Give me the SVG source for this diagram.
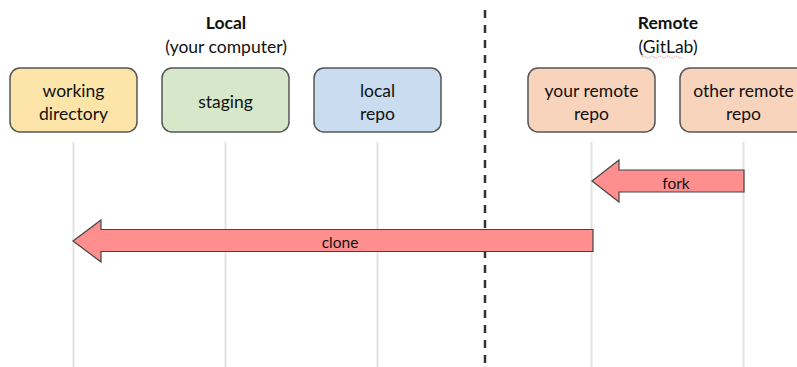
<svg xmlns="http://www.w3.org/2000/svg" width="797" height="367" viewBox="0 0 797 367">
  <style>
    text { font-family: Lato, "Open Sans", "Liberation Sans", sans-serif; font-size: 17.5px; fill: #111; text-anchor: middle; }
    .title { font-weight: bold; }
    .box { stroke: #555; stroke-width: 1.5; }
    .life { stroke: #e2e2e2; stroke-width: 2; }
    .divider { stroke: #333; stroke-width: 2.5; stroke-dasharray: 8 7; }
    .arrow { fill: #ff8f8f; stroke: #444; stroke-width: 1.2; stroke-linejoin: miter; }
    .label { font-size: 15.5px; }
  </style>
  <rect width="797" height="367" fill="#fff"/>

  <!-- headings -->
  <g id="heading-local">
    <text class="title" x="226" y="29">Local</text>
    <text x="226" y="53">(your computer)</text>
  </g>
  <g id="heading-remote">
    <text class="title" x="668" y="29">Remote</text>
    <text x="668" y="53">(GitLab)</text>
    <path d="M642 57 q2 -2 4 0 t4 0 t4 0 t4 0 t4 0 t4 0 t4 0 t4 0 t4 0 t4 0" fill="none" stroke="#e05050" stroke-width="0.8" stroke-dasharray="1 1"/>
  </g>

  <!-- lifelines and local/remote divider -->
  <g id="lifelines">
    <line class="life" x1="73.5" y1="142" x2="73.5" y2="367"/>
    <line class="life" x1="225.5" y1="142" x2="225.5" y2="367"/>
    <line class="life" x1="377.5" y1="142" x2="377.5" y2="367"/>
    <line class="life" x1="591.5" y1="142" x2="591.5" y2="367"/>
    <line class="life" x1="743.5" y1="142" x2="743.5" y2="367"/>
  </g>
  <line id="divider" class="divider" x1="485" y1="10" x2="485" y2="367"/>

  <!-- nodes -->
  <g id="working-directory">
    <rect class="box" x="10" y="68" width="127" height="64" rx="10" fill="#fde5a9"/>
    <text x="73.5" y="97">working</text>
    <text x="73.5" y="120">directory</text>
  </g>
  <g id="staging">
    <rect class="box" x="162" y="68" width="127" height="64" rx="10" fill="#d6e8c9"/>
    <text x="225.5" y="108">staging</text>
  </g>
  <g id="local-repo">
    <rect class="box" x="314" y="68" width="127" height="64" rx="10" fill="#c9dcf0"/>
    <text x="377.5" y="97">local</text>
    <text x="377.5" y="120">repo</text>
  </g>
  <g id="your-remote-repo">
    <rect class="box" x="528" y="68" width="127" height="64" rx="10" fill="#f8d4bc"/>
    <text x="591.5" y="97">your remote</text>
    <text x="591.5" y="120">repo</text>
  </g>
  <g id="other-remote-repo">
    <rect class="box" x="680" y="68" width="127" height="64" rx="10" fill="#f8d4bc"/>
    <text x="743.5" y="97">other remote</text>
    <text x="743.5" y="120">repo</text>
  </g>

  <!-- connectors -->
  <g id="connectors">
    <g id="fork">
      <path class="arrow" d="M744 170 L619 170 L619 160 L592 181 L619 202 L619 192 L744 192 Z"/>
      <text class="label" x="676" y="189">fork</text>
    </g>
    <g id="clone">
      <path class="arrow" d="M593 229.5 L101 229.5 L101 220 L73 241 L101 262 L101 251.5 L593 251.5 Z"/>
      <text class="label" x="340" y="248">clone</text>
    </g>
  </g>
</svg>
